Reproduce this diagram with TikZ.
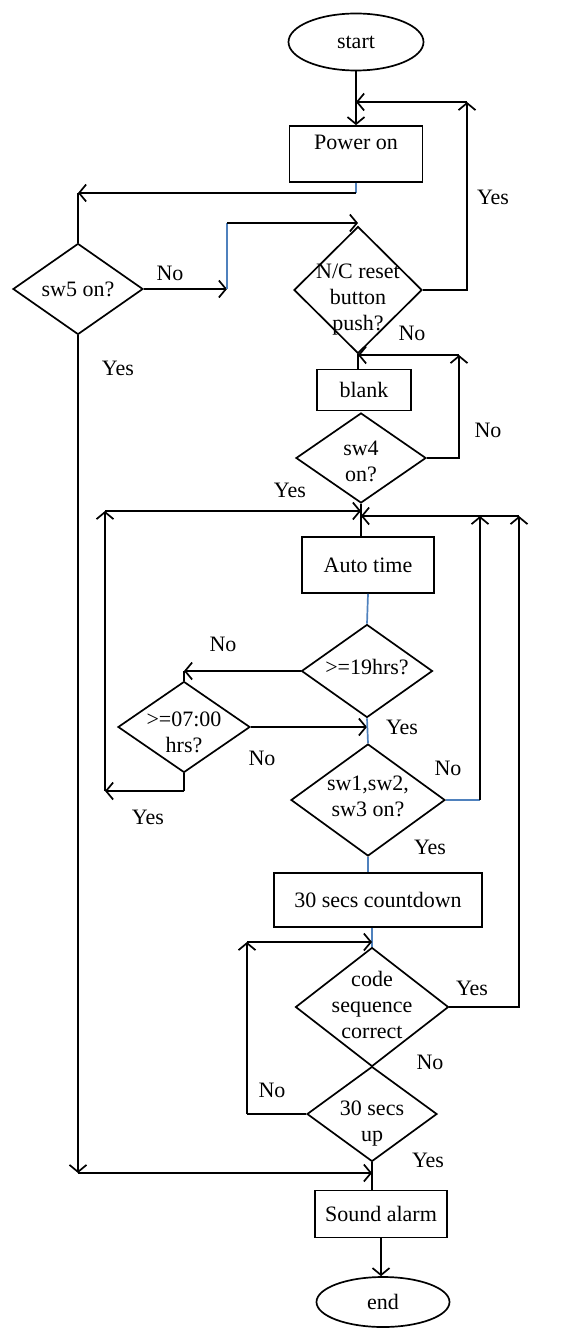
\documentclass[tikz,border=0pt]{standalone}
\usepackage{fontspec}
\setmainfont{Liberation Serif}
\usetikzlibrary{shapes.geometric,arrows.meta}
\definecolor{linkblue}{HTML}{4F81BD}
\tikzset{
  every node/.style={font=\fontsize{22}{26}\selectfont},
  term/.style={ellipse, draw, line width=1.7pt, inner sep=0pt},
  proc/.style={rectangle, draw, line width=1.7pt, inner sep=0pt},
  dec/.style={diamond, draw, line width=1.7pt, inner sep=0pt},
  link/.style={line width=1.7pt},
  >={Straight Barb[length=7pt,width=17pt]}
}
\begin{document}
\begin{tikzpicture}[x=1pt,y=-1pt]
\useasboundingbox (0,0) rectangle (560,1329);
% blocks
\node[term, minimum width=135pt, minimum height=57pt] (start) at (356,42) {start};
\node[proc, minimum width=133pt, minimum height=56pt, text depth=24pt] (power) at (356,154) {Power on};
\node[dec, minimum width=130pt, minimum height=91pt, label={center:sw5 on?}] (sw5) at (78,289) {};
\node[dec, minimum width=128pt, minimum height=127pt, label={[align=center,yshift=-10pt]center:N/C reset\\button\\push?}] (nc) at (358,290) {};
\node[proc, minimum width=94pt, minimum height=41pt] (blank) at (364,390) {blank};
\node[dec, minimum width=130pt, minimum height=90pt, label={[align=center,yshift=-3pt]center:sw4\\on?}] (sw4) at (361,458) {};
\node[proc, minimum width=132pt, minimum height=56pt] (auto) at (368,565) {Auto time};
\node[dec, minimum width=131pt, minimum height=93pt, label={[yshift=4pt]center:>=19hrs?}] (h19) at (367,671) {};
\node[dec, minimum width=132pt, minimum height=91pt, label={[align=center,yshift=-5pt]center:>=07:00\\hrs?}] (h07) at (184,727) {};
\node[dec, minimum width=154pt, minimum height=112pt, label={[align=center,yshift=4pt]center:sw1,sw2,\\sw3 on?}] (sw13) at (368,800) {};
\node[proc, minimum width=208pt, minimum height=54pt] (cnt) at (378,900) {30 secs countdown};
\node[dec, minimum width=153pt, minimum height=119pt, label={[align=center,yshift=2pt]center:code\\sequence\\correct}] (code) at (372,1007) {};
\node[dec, minimum width=130pt, minimum height=95pt, label={[align=center,yshift=-10pt]center:30 secs\\up}] (up) at (372,1114) {};
\node[proc, minimum width=132pt, minimum height=47pt] (alarm) at (381,1214) {Sound alarm};
\node[term, minimum width=133pt, minimum height=50pt] (stop) at (383,1302) {end};
% bends
\coordinate (c1) at (78,193);
\coordinate (c2) at (227,289);
\coordinate (c3) at (227,223);
\coordinate (c4) at (467,102);
\coordinate (c5) at (459,355);
\coordinate (c6) at (184,671);
\coordinate (c7) at (184,791);
\coordinate (c8) at (105,791);
\coordinate (c9) at (105,511);
\coordinate (c10) at (480,800);
\coordinate (c11) at (480,516);
\coordinate (c12) at (519,516);
\coordinate (c14) at (247,1114);
\coordinate (c15) at (247,942);
\coordinate (c16) at (78,1173);
% links
\draw[link,->] (start) -- (power);
\draw[link,linkblue] (power.south) -- (power.south |- c1);
\draw[link,->] (power.south |- c1) -- (c1);
\draw[link] (c1) -- (sw5.north);
\draw[link,->] (sw5.east) -- (c2);
\draw[link,linkblue] (c2) -- (c3);
\draw[link,->] (c3) -- (c3 -| nc.north);
\draw[link,->] (nc.east) -| (c4);
\draw[link,->] (c4) -- (c4 -| power.north);
\draw[link] (nc.south) -- (nc.south |- blank.north);
\draw[link,->] (sw4.east) -| (c5);
\draw[link,->] (c5) -- (c5 -| nc.south);
\draw[link] (sw4.south) -- (sw4.south |- auto.north);
\draw[link,linkblue] (auto.south) -- (h19.north);
\draw[link,->] (h19.west) -- (c6);
\draw[link] (c6) -- (h07.north);
\draw[link,->] (h07.east) -- (h07.east -| h19.south);
\draw[link,linkblue] (h19.south) -- (sw13.north);
\draw[link] (h07.south) -- (c7);
\draw[link,->] (c7) -- (c8);
\draw[link,->] (c8) -- (c9);
\draw[link,->] (c9) -- (c9 -| sw4.south);
\draw[link,linkblue] (sw13.east) -- (c10);
\draw[link,->] (c10) -- (c11);
\draw[link,linkblue] (sw13.south) -- (sw13.south |- cnt.north);
\draw[link,linkblue] (code.north |- cnt.south) -- (code.north);
\draw[link,->] (code.east) -| (c12);
\draw[link,->] (c12) -- (c12 -| sw4.south);
\draw[link] (up.west) -- (c14);
\draw[link,->] (c14) -- (c15);
\draw[link,->] (c15) -- (c15 -| code.north);
\draw[link] (up.south) -- (up.south |- alarm.north);
\draw[link,->] (sw5.south) -- (c16);
\draw[link,->] (c16) -- (c16 -| up.south);
\draw[link,->] (alarm.south) -- (alarm.south |- stop.north);
% answers
\node (nc yes) at (493,197) {Yes};
\node (sw5 no) at (170,273) {No};
\node (sw5 yes) at (118,368) {Yes};
\node (nc no) at (412,333) {No};
\node (sw4 no) at (488,430) {No};
\node (sw4 yes) at (290,490) {Yes};
\node (h19 no) at (223,644) {No};
\node (h19 yes) at (402,727) {Yes};
\node (h07 no) at (262,758) {No};
\node (h07 yes) at (148,817) {Yes};
\node (sw13 no) at (448,768) {No};
\node (sw13 yes) at (430,847) {Yes};
\node (code yes) at (472,988) {Yes};
\node (code no) at (430,1062) {No};
\node (up no) at (272,1090) {No};
\node (up yes) at (428,1160) {Yes};
\end{tikzpicture}
\end{document}
